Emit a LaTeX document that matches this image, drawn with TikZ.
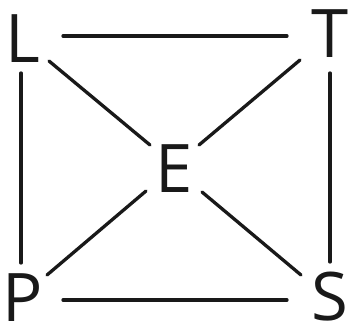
\documentclass[tikz,border=0pt]{standalone}
\usepackage{fontspec}
\setmainfont{Open Sans}
\usetikzlibrary{calc}
\definecolor{ink}{RGB}{25,25,25}
\tikzset{
  letter/.style={anchor=base, inner sep=0pt, text=ink, font=\fontsize{67}{67}\selectfont},
  link/.style={draw=ink, line width=3.3pt, line cap=round}
}
\begin{document}
\begin{tikzpicture}[x=1pt,y=-1pt]
\useasboundingbox (0,0) rectangle (350,327);
\node[letter] (L) at (22.5,62) {L};
\node[letter] (T) at (330,57) {T};
\node[letter] (E) at (174,192) {E};
\node[letter] (P) at (23,321) {P};
\node[letter] (S) at (330,320) {S};
\draw[link] ($(L.base)+(40.5,-26)$) -- ($(T.base)+(-43,-21)$);
\draw[link] ($(L.base)+(-1.5,11)$) -- ($(P.base)+(-2,-58)$);
\draw[link] ($(L.base)+(26.5,-1)$) -- ($(E.base)+(-24,-47)$);
\draw[link] ($(T.base)+(0,16)$) -- ($(S.base)+(0,-58)$);
\draw[link] ($(T.base)+(-30,3)$) -- ($(E.base)+(25,-47)$);
\draw[link] ($(P.base)+(24,-46)$) -- ($(E.base)+(-28,-1)$);
\draw[link] ($(S.base)+(-29,-45)$) -- ($(E.base)+(28,0)$);
\draw[link] ($(P.base)+(40,-21)$) -- ($(S.base)+(-43,-20)$);
\end{tikzpicture}
\end{document}
